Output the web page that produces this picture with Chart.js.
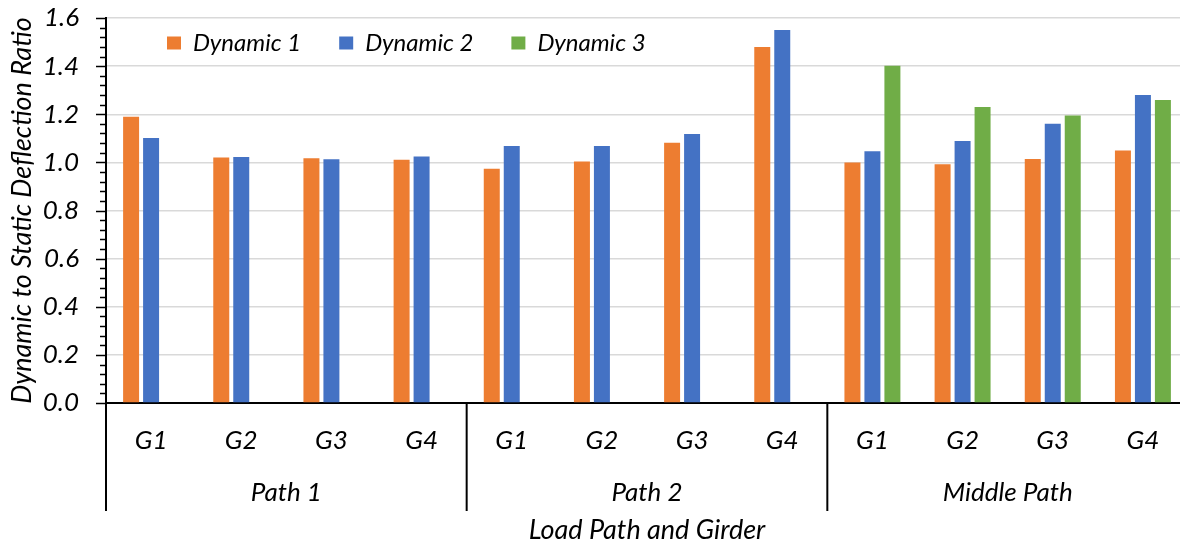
<!DOCTYPE html>
<html>
<head>
<meta charset="utf-8">
<script src="https://cdn.jsdelivr.net/npm/chart.js@4.4.1/dist/chart.umd.min.js"></script>
<style>
	body { margin: 0; background: #fff; overflow: hidden; }
	#wrap { width: 1180px; height: 546px; overflow: hidden; }
</style>
</head>
<body>
<div id="wrap"><canvas id="mycanvas" width="1190" height="546"></canvas></div>
<script>
// categories (girder labels) and the load path each group of 4 belongs to
var girders = ['G1', 'G2', 'G3', 'G4', 'G1', 'G2', 'G3', 'G4', 'G1', 'G2', 'G3', 'G4'];
var paths = ['Path 1', 'Path 2', 'Middle Path'];
var girdersPerPath = 4;

// dynamic to static deflection ratio
var dynamic1 = [1.19, 1.02, 1.017, 1.011, 0.973, 1.004, 1.082, 1.48, 1.0, 0.992, 1.014, 1.049];
var dynamic2 = [1.101, 1.022, 1.013, 1.024, 1.068, 1.068, 1.118, 1.55, 1.046, 1.089, 1.161, 1.28];
var dynamic3 = [null, null, null, null, null, null, null, null, 1.402, 1.23, 1.195, 1.259];

// value axis
var yMin = 0;
var yMax = 1.6;
var yStep = 0.2;
var yMinorStep = 0.04;

var fontFamily = 'Lato';
var italic = function(size) {
	return { family: fontFamily, size: size, style: 'italic' };
};

// legend floats inside the plot, y ticks, group separators and path labels
var extrasPlugin = {
	id: 'extras',
	beforeLayout: function(chart) {
		var lg = chart.legend;
		if (lg && !lg._noHeight) {
			var fit = lg.fit;
			lg.fit = function() {
				fit.call(this);
				this.height = 0;
			};
			lg._noHeight = true;
		}
	},
	afterLayout: function(chart) {
		var lg = chart.legend;
		if (lg) {
			lg.left = chart.chartArea.left + 23;
			lg.top = -7;
			lg.bottom = 80;
		}
	},
	afterDraw: function(chart) {
		var ctx = chart.ctx;
		var area = chart.chartArea;
		var y = chart.scales.y;
		var x = chart.scales.x;
		ctx.save();
		ctx.strokeStyle = '#000';

		// major (10px) and minor (6px) ticks, outside the axis
		ctx.lineWidth = 1.5;
		var n = Math.round((yMax - yMin) / yMinorStep);
		var every = Math.round(yStep / yMinorStep);
		for (var i = 0; i <= n; i++) {
			var len = i % every === 0 ? 10 : 6;
			var py = Math.round(y.getPixelForValue(yMin + i * yMinorStep)) + 0.5;
			ctx.beginPath();
			ctx.moveTo(area.left - len, py);
			ctx.lineTo(area.left, py);
			ctx.stroke();
		}

		// group separators
		ctx.lineWidth = 2;
		var bottom = 511;
		var half = (x.getPixelForValue(1) - x.getPixelForValue(0)) / 2;
		var edges = [];
		for (var g = 0; g <= paths.length; g++) {
			var idx = g * girdersPerPath;
			var px = g === paths.length ? x.getPixelForValue(idx - 1) + half : x.getPixelForValue(idx) - half;
			edges.push(px);
			ctx.beginPath();
			ctx.moveTo(px, area.bottom);
			ctx.lineTo(px, bottom);
			ctx.stroke();
		}

		// path labels
		ctx.fillStyle = '#000';
		ctx.font = 'italic 26px ' + fontFamily;
		ctx.textAlign = 'center';
		ctx.textBaseline = 'middle';
		for (var k = 0; k < paths.length; k++) {
			ctx.fillText(paths[k], (edges[k] + edges[k + 1]) / 2, 493);
		}
		ctx.restore();
	}
};

var chartdata = {
	labels: girders,
	datasets: [
		{ label: 'Dynamic 1', backgroundColor: '#ED7D31', data: dynamic1 },
		{ label: 'Dynamic 2', backgroundColor: '#4472C4', data: dynamic2 },
		{ label: 'Dynamic 3', backgroundColor: '#70AD47', data: dynamic3 }
	]
};

var ctx = document.getElementById('mycanvas');

var barGraph = new Chart(ctx, {
	type: 'bar',
	data: chartdata,
	plugins: [extrasPlugin],
	options: {
		responsive: false,
		animation: false,
		devicePixelRatio: 1,
		layout: { padding: { top: 18, right: 2, bottom: 0, left: 0 } },
		datasets: {
			bar: { categoryPercentage: 0.665, barPercentage: 0.8 }
		},
		plugins: {
			tooltip: { enabled: false },
			legend: {
				position: 'top',
				align: 'start',
				labels: {
					boxWidth: 14,
					boxHeight: 13,
					padding: 38,
					color: '#000',
					font: italic(24)
				}
			}
		},
		scales: {
			x: {
				grid: { display: false, drawTicks: false },
				border: { color: '#000', width: 2 },
				ticks: { color: '#000', font: italic(26), padding: 22 },
				title: {
					display: true,
					text: 'Load Path and Girder',
					color: '#000',
					font: italic(27),
					padding: { top: 0, bottom: 0 }
				},
				afterFit: function(scale) { scale.height = 143; }
			},
			y: {
				min: yMin,
				max: yMax,
				// long invisible tick slot keeps the labels clear of the axis
				grid: { color: '#d9d9d9', lineWidth: 1.5, tickColor: 'rgba(0,0,0,0)', tickLength: 27 },
				border: { color: '#000', width: 2 },
				ticks: {
					stepSize: yStep,
					color: '#000',
					font: italic(26),
					padding: 0,
					callback: function(v) { return v.toFixed(1); }
				},
				title: {
					display: true,
					text: 'Dynamic to Static Deflection Ratio',
					color: '#000',
					font: italic(27),
					padding: { top: 6, bottom: 0 }
				},
				afterFit: function(scale) { scale.width = 106; }
			}
		}
	}
});
</script>
</body>
</html>
